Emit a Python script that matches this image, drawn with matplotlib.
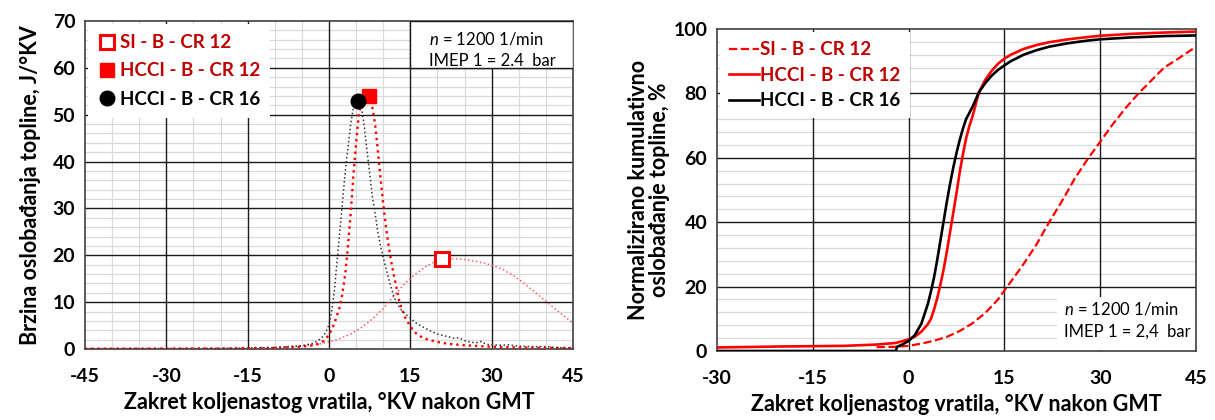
import matplotlib
matplotlib.use("Agg")
import matplotlib.pyplot as plt
from matplotlib.lines import Line2D
from matplotlib.patches import Rectangle
import numpy as np

plt.rcParams['font.family'] = ['Lato', 'DejaVu Sans']
plt.rcParams['mathtext.fontset'] = 'custom'
plt.rcParams['mathtext.rm'] = 'Lato'
plt.rcParams['mathtext.it'] = 'Lato:italic'
plt.rcParams['axes.unicode_minus'] = False

# ---------------- data: heat release rate (left) ----------------
si_x = [-45, -30, -20, -15, -10, -5, -2, 0, 2, 4, 6, 8, 10, 12, 14, 16, 18, 20, 21, 23,
        25, 28, 30, 32, 34, 36, 38, 40, 42, 45]
si_y = [0.1, 0.1, 0.1, 0.15, 0.25, 0.6, 1.0, 1.5, 2.2, 3.2, 4.6, 6.4, 8.6, 11.4, 14.0, 16.0,
        17.7, 18.9, 19.2, 19.3, 19.1, 18.5, 17.9, 17.0, 15.7, 14.0, 12.1, 10.2, 8.3, 5.5]

h12_x = [-45, -20, -10, -5, -3, -2, -1, 0, 1, 2, 2.5, 3, 3.5, 4, 4.5, 5, 5.5, 6, 6.5, 7,
         7.5, 8, 8.5, 9, 9.5, 10, 10.5, 11, 11.5, 12, 13, 14, 15, 16, 17, 18, 20, 22, 25,
         28, 30, 35, 40, 45]
h12_y = [0.05, 0.1, 0.25, 0.5, 0.8, 1.1, 1.7, 3.0, 5.5, 9.0, 12.0, 16.0, 22.0, 29.0, 37.0,
         44.0, 50.0, 53.0, 54.0, 54.2, 53.5, 51.5, 48.0, 42.5, 36.5, 31.0, 26.0, 22.0, 18.5,
         15.5, 10.0, 6.8, 4.8, 3.4, 2.6, 2.1, 1.5, 1.1, 0.8, 0.6, 0.5, 0.3, 0.25, 0.2]

h16_x = [-45, -20, -10, -5, -3, -2, -1, -0.5, 0, 0.5, 1, 1.5, 2, 2.5, 3, 3.5, 4, 4.5, 5,
         5.5, 6, 6.5, 7, 7.5, 8, 8.5, 9, 9.5, 10, 11, 12, 13, 14, 15, 16, 17, 18, 19, 20,
         22, 23, 24, 25, 26, 27, 28, 29, 30, 32, 33, 35, 38, 40, 42, 45]
h16_y = [0.05, 0.1, 0.3, 0.7, 1.2, 1.8, 2.8, 3.8, 5.2, 8.0, 12.5, 19.0, 25.0, 31.5, 38.0,
         43.0, 48.0, 51.5, 53.0, 53.0, 51.5, 47.5, 42.5, 37.5, 32.5, 29.0, 25.0, 22.0, 19.5,
         15.0, 11.0, 8.8, 7.5, 6.6, 5.6, 4.9, 4.3, 3.7, 3.2, 2.6, 2.3, 2.4, 1.8, 1.5, 1.3,
         1.6, 1.0, 0.9, 0.8, 0.9, 0.6, 0.5, 0.5, 0.3, 0.2]

# peak markers (x, y)
si_peak = (20.9, 19.2)
h12_peak = (7.3, 54.1)
h16_peak = (5.4, 52.9)

# ---------------- data: cumulative heat release (right) ----------------
csi_x = [-5, -2, 0, 2, 4, 6, 8, 10, 12, 14, 15, 16, 18, 20, 22, 24, 26, 28, 30, 32, 34,
         36, 38, 40, 42, 45]
csi_y = [1.2, 1.3, 1.6, 2.3, 3.2, 4.4, 6.2, 8.6, 11.8, 16.0, 18.8, 21.5, 27.0, 33.0, 40.0,
         46.5, 53.5, 59.5, 65.0, 70.5, 75.5, 80.0, 84.0, 88.0, 90.5, 94.5]

c12_x = [-30, -20, -10, -5, -2, 0, 1, 2, 3, 3.5, 4, 4.5, 5, 5.5, 6, 6.5, 7, 7.5, 8, 8.5,
         9, 9.5, 10, 11, 12, 13, 14, 15, 16, 18, 20, 22, 25, 28, 30, 35, 40, 45]
c12_y = [1.1, 1.4, 1.6, 2.0, 2.5, 3.6, 4.5, 6.0, 8.3, 10.0, 13.0, 16.5, 20.8, 25.5, 31.0,
         37.0, 43.0, 49.0, 55.5, 61.0, 66.0, 69.8, 72.8, 80.3, 84.2, 87.0, 89.2, 90.8, 92.0,
         93.8, 95.0, 95.9, 96.8, 97.5, 97.9, 98.5, 98.9, 99.2]

c16_x = [-30, -2, -1.8, -1, 0, 1, 2, 2.5, 3, 3.5, 4, 4.5, 5, 5.5, 6, 6.5, 7, 7.5, 8, 8.5,
         9, 10, 11, 12, 13, 14, 15, 16, 18, 20, 22, 25, 28, 30, 35, 40, 45]
c16_y = [0.0, 0.0, 1.3, 2.0, 3.1, 5.0, 8.5, 11.5, 14.5, 18.5, 23.0, 28.5, 34.5, 40.5, 46.5,
         52.0, 57.0, 61.5, 65.5, 69.0, 72.0, 75.8, 80.3, 83.2, 85.5, 87.3, 88.7, 90.0, 92.0,
         93.4, 94.5, 95.6, 96.4, 96.8, 97.4, 97.8, 98.0]

labels = ["SI - B - CR 12", "HCCI - B - CR 12", "HCCI - B - CR 16"]
xlabel = "Zakret koljenastog vratila, °KV nakon GMT"
ylabel_left = "Brzina oslobađanja topline, J/°KV"
ylabel_right = "Normalizirano kumulativno\noslobađanje topline, %"

RED = '#ff0000'
RED_TXT = '#c00000'
LIGHT_RED = '#ff5a5a'
GRID_DARK = '#1a1a1a'

fig = plt.figure(figsize=(12.15, 4.2), dpi=100)

def style_axes(ax, xmaj, xmin_step, ymaj, ymin_step, xr, yr, minor_x=True):
    ax.set_xlim(*xr)
    ax.set_ylim(*yr)
    xt = np.arange(xr[0], xr[1] + 0.1, xmaj)
    yt = np.arange(yr[0], yr[1] + 0.1, ymaj)
    ax.set_xticks(xt)
    ax.set_yticks(yt)
    if minor_x:
        ax.set_xticks(np.arange(xr[0], xr[1] + 0.1, xmin_step), minor=True)
    ax.set_yticks(np.arange(yr[0], yr[1] + 0.1, ymin_step), minor=True)
    ax.grid(which='minor', axis='y', color='#dadada', lw=0.9)
    if minor_x:
        ax.grid(which='minor', axis='x', color='#dadada', lw=0.9)
    # major grid drawn above minor grid
    for v in xt[1:-1]:
        ax.axvline(v, color=GRID_DARK, lw=1.0, zorder=1)
    for v in yt[1:-1]:
        ax.axhline(v, color=GRID_DARK, lw=1.0, zorder=1)
    ax.set_axisbelow(True)
    ax.tick_params(which='both', length=0)
    ax.tick_params(axis='x', pad=14, labelsize=14)
    ax.tick_params(axis='y', pad=7, labelsize=14)
    for lab in ax.get_xticklabels() + ax.get_yticklabels():
        lab.set_fontweight('bold')
    for sp in ax.spines.values():
        sp.set_color('#404040')
        sp.set_linewidth(1.2)

# ---------------- left axes ----------------
ax1 = fig.add_axes([85 / 1215, 71 / 420, 488 / 1215, 328 / 420])
style_axes(ax1, 15, 5, 10, 2, (-45, 45), (0, 70))

ax1.plot(si_x, si_y, ls=':', color=LIGHT_RED, lw=1.1, zorder=3)
ax1.plot(h12_x, h12_y, ls=':', color=RED, lw=1.7, zorder=3)
ax1.plot(h16_x, h16_y, ls=':', color='#333333', lw=1.1, zorder=3)
ax1.plot([si_peak[0]], [si_peak[1]], marker='s', ms=10, mfc='white', mec=RED, mew=2.2,
         ls='none', zorder=4)
ax1.plot([h12_peak[0]], [h12_peak[1]], marker='s', ms=10, color=RED, ls='none', zorder=4)
ax1.plot([h16_peak[0]], [h16_peak[1]], marker='o', ms=10.5, color='black', ls='none', zorder=4)

ax1.set_xlabel(xlabel, fontsize=15.5, fontweight='bold', labelpad=5)
ax1.set_ylabel(ylabel_left, fontsize=15.5, fontweight='bold', labelpad=8)

h_left = [
    Line2D([], [], marker='s', ms=10, mfc='white', mec=RED, mew=2.2, ls='none'),
    Line2D([], [], marker='s', ms=10, color=RED, ls='none'),
    Line2D([], [], marker='o', ms=10.5, color='black', ls='none'),
]
leg1 = ax1.legend(h_left, labels, loc='upper left', bbox_to_anchor=(0.0, 1.0),
                  borderaxespad=0.15, frameon=True, framealpha=1, facecolor='white',
                  edgecolor='none', fancybox=False, handlelength=0.9, handletextpad=0.25,
                  labelspacing=0.6, borderpad=0.55,
                  prop={'size': 13.5, 'weight': 'bold'})
leg1.set_zorder(6)
for t, c in zip(leg1.get_texts(), [RED_TXT, RED_TXT, 'black']):
    t.set_color(c)

# annotation box (left)
ax1.add_patch(Rectangle((60 / 90, 60 / 70), 30 / 90, 10 / 70, transform=ax1.transAxes,
                        facecolor='white', edgecolor=GRID_DARK, lw=1.0, zorder=5))
ax1.text(0.705, 0.945, r"$n$ = 1200 1/min", transform=ax1.transAxes, fontsize=12,
         va='center', ha='left', zorder=6)
ax1.text(0.705, 0.877, "IMEP 1 = 2.4  bar", transform=ax1.transAxes, fontsize=12,
         va='center', ha='left', zorder=6)

# ---------------- right axes ----------------
ax2 = fig.add_axes([717 / 1215, 69 / 420, 479 / 1215, 322 / 420])
style_axes(ax2, 15, 5, 20, 4, (-30, 45), (0, 100), minor_x=False)

ax2.plot(csi_x, csi_y, ls='--', color=RED, lw=1.6, zorder=3)
ax2.plot(c12_x, c12_y, ls='-', color=RED, lw=1.9, zorder=3)
ax2.plot(c16_x, c16_y, ls='-', color='black', lw=1.9, zorder=3)

ax2.set_xlabel(xlabel, fontsize=15.5, fontweight='bold', labelpad=5)
ax2.set_ylabel(ylabel_right, fontsize=15.5, fontweight='bold', labelpad=2, linespacing=1.05)

h_right = [
    Line2D([], [], ls='--', color=RED, lw=1.6),
    Line2D([], [], ls='-', color=RED, lw=1.9),
    Line2D([], [], ls='-', color='black', lw=1.9),
]
leg2 = ax2.legend(h_right, labels, loc='upper left', bbox_to_anchor=(0.0, 1.0),
                  borderaxespad=0.15, frameon=True, framealpha=1, facecolor='white',
                  edgecolor='none', fancybox=False, handlelength=1.6, handletextpad=0.05,
                  labelspacing=0.45, borderpad=0.5,
                  prop={'size': 13.5, 'weight': 'bold'})
leg2.set_zorder(6)
for t, c in zip(leg2.get_texts(), [RED_TXT, RED_TXT, 'black']):
    t.set_color(c)

ax2.add_patch(Rectangle((0.71, 0.003), 0.287, 0.165, transform=ax2.transAxes,
                        facecolor='white', edgecolor='none', zorder=5))
ax2.text(0.725, 0.13, r"$n$ = 1200 1/min", transform=ax2.transAxes, fontsize=12,
         va='center', ha='left', zorder=6)
ax2.text(0.725, 0.06, "IMEP 1 = 2,4  bar", transform=ax2.transAxes, fontsize=12,
         va='center', ha='left', zorder=6)

fig.savefig("out.png", dpi=100)
